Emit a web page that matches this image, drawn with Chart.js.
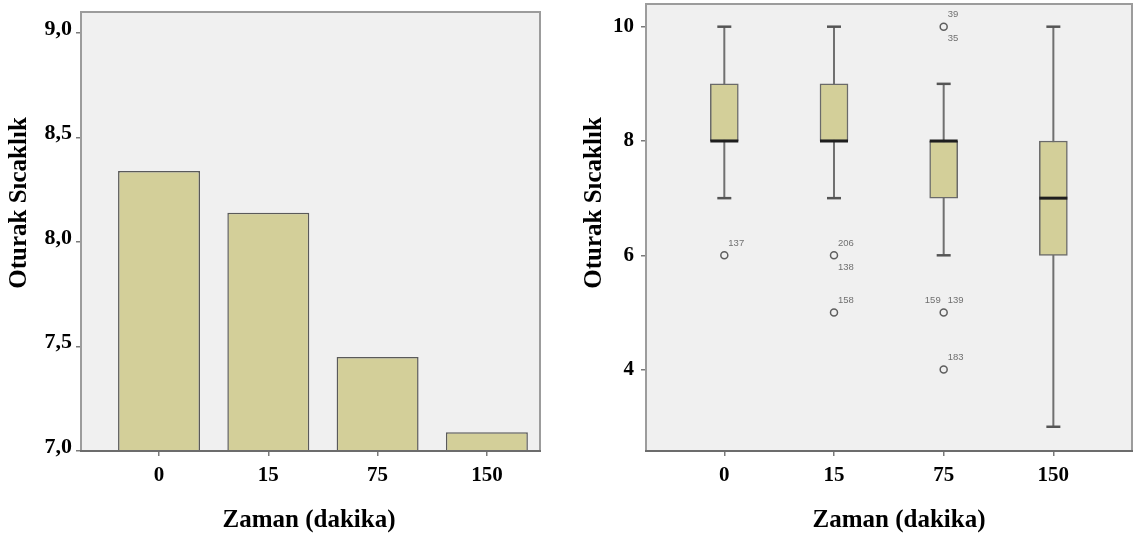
<!DOCTYPE html>
<html>
<head>
<meta charset="utf-8">
<script src="https://cdn.jsdelivr.net/npm/chart.js@4.4.1/dist/chart.umd.min.js"></script>
<style>
  html, body { margin: 0; padding: 0; background: #fff; overflow: hidden; }
  .panel { position: absolute; top: 0; height: 543px; }
  #left { left: 0; width: 560px; }
  #right { left: 560px; width: 582px; }
</style>
</head>
<body>
<div class="panel" id="left"><canvas id="meanChart"></canvas></div>
<div class="panel" id="right"><canvas id="boxChart"></canvas></div>
<script>
// Oturak sıcaklık by time: group means (left) and box plots (right)
const times = ['0', '15', '75', '150'];
const meanScore = [8.34, 8.14, 7.45, 7.09];
const meanTicks = [7, 7.5, 8, 8.5, 9];

const boxMin = [7, 7, 6, 3];
const boxQ1 = [8, 8, 7, 6];
const boxMedian = [8, 8, 8, 7];
const boxQ3 = [9, 9, 8, 8];
const boxMax = [10, 10, 9, 10];
const boxTicks = [4, 6, 8, 10];

// outlying cases: time index, value, case numbers
const outlierTime = [0, 1, 1, 2, 2, 2];
const outlierValue = [6, 6, 5, 10, 5, 4];
const outlierCases = [['137'], ['206', '138'], ['158'], ['39', '35'], ['139', '159'], ['183']];

const SERIF = '"Liberation Serif", "Times New Roman", serif';
const INK = '#000';

// grey plot panel behind the marks, frame on top of them
const plotFrame = {
  id: 'plotFrame',
  beforeDraw(chart) {
    const { ctx, chartArea: a } = chart;
    ctx.save();
    ctx.fillStyle = '#f0f0f0';
    ctx.fillRect(a.left, a.top, a.width, a.height);
    ctx.restore();
  },
  afterDatasetsDraw(chart) {
    const { ctx, chartArea: a } = chart;
    ctx.save();
    ctx.strokeStyle = '#9c9c9c';
    ctx.lineWidth = 2;
    ctx.strokeRect(a.left, a.top, a.width, a.height);
    ctx.strokeStyle = '#6c6c6c';
    ctx.beginPath();
    ctx.moveTo(a.left - 1, a.bottom);
    ctx.lineTo(a.right + 1, a.bottom);
    ctx.stroke();
    ctx.restore();
  },
};

// axis titles, placed freely so they can sit off the plot centre
const axisTitles = {
  id: 'axisTitles',
  afterDraw(chart, args, opts) {
    const { ctx } = chart;
    ctx.save();
    ctx.fillStyle = INK;
    ctx.textAlign = 'center';
    ctx.textBaseline = 'middle';
    ctx.font = 'bold 25px ' + SERIF;
    ctx.fillText(opts.xText, opts.xAtX, opts.xAtY);
    ctx.translate(opts.yAtX, opts.yAtY);
    ctx.rotate(-Math.PI / 2);
    ctx.fillText(opts.yText, 0, 0);
    ctx.restore();
  },
};

// case numbers next to the outlier circles
const caseLabels = {
  id: 'caseLabels',
  afterDatasetsDraw(chart, args, opts) {
    const meta = chart.getDatasetMeta(opts.datasetIndex);
    const { ctx } = chart;
    ctx.save();
    ctx.font = '9.5px "Liberation Sans", Arial, sans-serif';
    ctx.fillStyle = '#707070';
    ctx.textBaseline = 'middle';
    meta.data.forEach((pt, i) => {
      outlierCases[i].forEach((id, k) => {
        const spot = opts.spots[i][k];
        ctx.textAlign = spot === 'nw' ? 'right' : 'left';
        const dx = spot === 'nw' ? -3 : 4;
        const dy = spot === 'se' ? 12 : -12;
        ctx.fillText(id, pt.x + dx, pt.y + dy);
      });
    });
    ctx.restore();
  },
};

const tickGrid = { drawOnChartArea: false, drawTicks: true, offset: false, tickLength: 5, color: '#7a7a7a', lineWidth: 1.5 };

function timeAxis(min, max) {
  return {
    type: 'linear',
    min,
    max,
    offset: false,
    afterBuildTicks: (s) => { s.ticks = times.map((t, i) => ({ value: i })); },
    afterFit: (s) => { s.height = 60; s.paddingLeft = 0; s.paddingRight = 0; },
    grid: tickGrid,
    border: { display: false },
    ticks: {
      color: INK,
      font: { family: SERIF, size: 21, weight: 'bold' },
      padding: 7,
      maxRotation: 0,
      autoSkip: false,
      callback: (v) => times[v],
    },
  };
}

function valueAxis(min, max, tickValues, width, size, pad, shift, fmt) {
  return {
    min,
    max,
    afterBuildTicks: (s) => { s.ticks = tickValues.map((v) => ({ value: v })); },
    afterFit: (s) => { s.width = width; s.paddingTop = 0; s.paddingBottom = 0; },
    grid: tickGrid,
    border: { display: false },
    ticks: {
      color: INK,
      font: { family: SERIF, size, weight: 'bold' },
      padding: pad,
      labelOffset: shift,
      callback: fmt,
    },
  };
}

const common = {
  responsive: true,
  maintainAspectRatio: false,
  animation: false,
  events: [],
};

new Chart(document.getElementById('meanChart'), {
  type: 'bar',
  data: {
    datasets: [{
      data: meanScore.map((v, i) => ({ x: i, y: v })),
      backgroundColor: '#d3cf99',
      borderColor: '#5a5a5a',
      borderWidth: 1.5,
      barPercentage: 0.75,
      categoryPercentage: 1,
    }],
  },
  options: {
    ...common,
    layout: { autoPadding: false, padding: { left: 0, right: 20, top: 12, bottom: 32 } },
    scales: {
      x: timeAxis(-0.714, 3.486),
      y: valueAxis(7, 9.1, meanTicks, 81, 22, 4, -4, (v) => v.toFixed(1).replace('.', ',')),
    },
    plugins: {
      legend: { display: false },
      tooltip: { enabled: false },
      axisTitles: { xText: 'Zaman (dakika)', xAtX: 309, xAtY: 521, yText: 'Oturak Sıcaklık', yAtX: 20, yAtY: 203 },
    },
  },
  plugins: [plotFrame, axisTitles],
});

new Chart(document.getElementById('boxChart'), {
  type: 'bar',
  data: {
    datasets: [
      {
        // whiskers, min to max, behind the boxes
        type: 'scatter',
        showLine: true,
        spanGaps: false,
        order: 4,
        data: times.flatMap((t, i) => [{ x: i, y: boxMin[i] }, { x: i, y: boxMax[i] }, { x: i, y: null }]),
        borderColor: '#707070',
        borderWidth: 2,
        pointRadius: 0,
      },
      {
        // interquartile boxes
        order: 3,
        data: times.map((t, i) => ({ x: i, y: [boxQ1[i], boxQ3[i]] })),
        backgroundColor: '#d3cf99',
        borderColor: '#6a6a6a',
        borderWidth: 1.5,
        borderSkipped: false,
        barThickness: 28,
      },
      {
        // whisker caps
        type: 'scatter',
        order: 2,
        data: times.flatMap((t, i) => [{ x: i, y: boxMin[i] }, { x: i, y: boxMax[i] }]),
        pointStyle: 'line',
        pointRadius: 7,
        borderColor: '#555555',
        borderWidth: 2.5,
      },
      {
        // medians
        type: 'scatter',
        order: 1,
        data: times.map((t, i) => ({ x: i, y: boxMedian[i] })),
        pointStyle: 'line',
        pointRadius: 14,
        borderColor: '#1e1e1e',
        borderWidth: 3,
      },
      {
        // outliers
        type: 'scatter',
        order: 0,
        data: outlierTime.map((t, i) => ({ x: t, y: outlierValue[i] })),
        pointStyle: 'circle',
        pointRadius: 3.5,
        borderColor: '#5e5e5e',
        backgroundColor: 'rgba(0,0,0,0)',
        borderWidth: 1.5,
      },
    ],
  },
  options: {
    ...common,
    layout: { autoPadding: false, padding: { left: 0, right: 10, top: 4, bottom: 32 } },
    scales: {
      x: timeAxis(-0.714, 3.717),
      y: valueAxis(2.576, 10.397, boxTicks, 86, 21, 7, 0, (v) => String(v)),
    },
    plugins: {
      legend: { display: false },
      tooltip: { enabled: false },
      axisTitles: { xText: 'Zaman (dakika)', xAtX: 339, xAtY: 521, yText: 'Oturak Sıcaklık', yAtX: 35, yAtY: 203 },
      caseLabels: {
        datasetIndex: 4,
        spots: [['ne'], ['ne', 'se'], ['ne'], ['ne', 'se'], ['ne', 'nw'], ['ne']],
      },
    },
  },
  plugins: [plotFrame, axisTitles, caseLabels],
});
</script>
</body>
</html>
